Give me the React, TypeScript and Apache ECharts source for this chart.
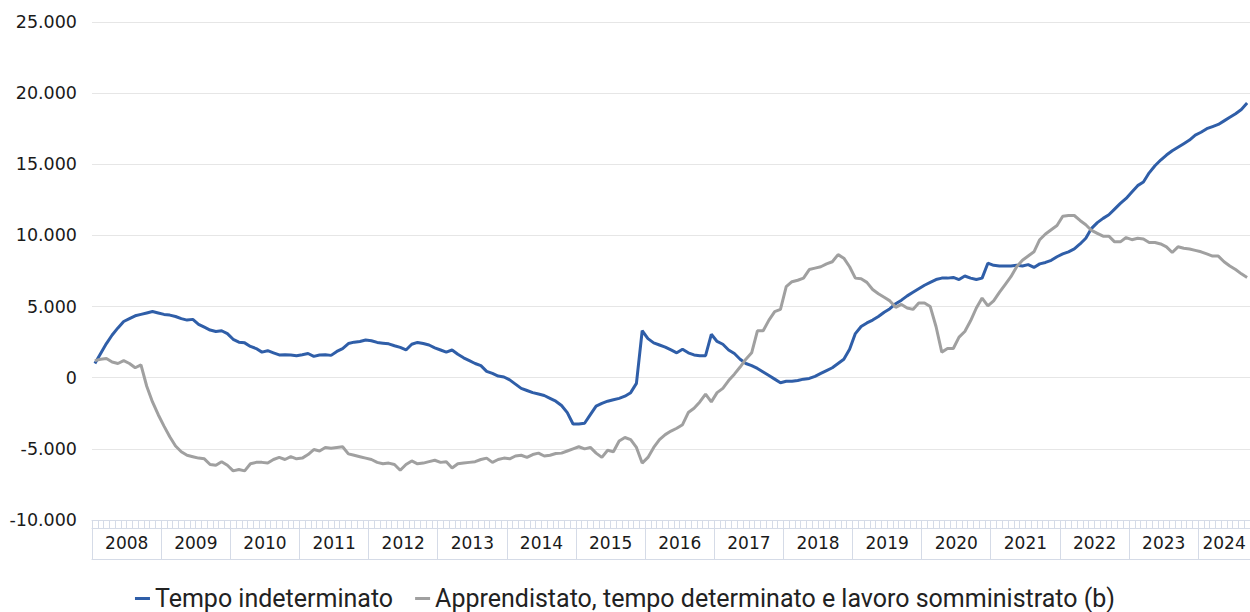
import React, { useEffect, useRef } from "react";
import * as echarts from "echarts";

const START_YEAR = 2008;
const MONTH_COUNT = 201;
const months: string[] = Array.from(
  { length: MONTH_COUNT },
  (_, i) => `${START_YEAR + Math.floor(i / 12)}-${String((i % 12) + 1).padStart(2, "0")}`
);

const seriesNames = [
  "Tempo indeterminato",
  "Apprendistato, tempo determinato e lavoro somministrato (b)",
];

const tempoIndeterminato: number[] = [
  1000, 1700, 2400, 3000, 3500, 3950, 4150, 4350, 4450, 4550, 4650,
  4550, 4450, 4400, 4300, 4150, 4050, 4100, 3750, 3550, 3350,
  3250, 3300, 3100, 2700, 2500, 2450, 2200, 2050, 1800, 1900,
  1750, 1600, 1620, 1600, 1550, 1620, 1700, 1500, 1600, 1620,
  1570, 1850, 2050, 2400, 2500, 2550, 2650, 2600, 2480, 2430,
  2380, 2250, 2130, 1950, 2350, 2480, 2400, 2300, 2100, 1950,
  1800, 1950, 1650, 1400, 1200, 1000, 850, 450, 300, 120,
  50, -150, -450, -750, -900, -1050, -1150, -1250, -1450, -1650,
  -1950, -2450, -3250, -3250, -3200, -2600, -2000, -1800, -1650, -1550,
  -1450, -1300, -1050, -400, 3300, 2750, 2450, 2300, 2150, 1950,
  1750, 2000, 1750, 1600, 1550, 1550, 3050, 2550, 2350, 1950,
  1700, 1300, 1000, 850, 650, 400, 150, -100, -350, -250,
  -250, -200, -100, -50, 100, 300, 500, 700, 1000, 1300,
  2000, 3100, 3600, 3850, 4050, 4300, 4600, 4850, 5200, 5450,
  5750, 6000, 6250, 6500, 6700, 6900, 7000, 7000, 7050, 6900,
  7150, 7000, 6900, 7000, 8050, 7900, 7850, 7850, 7850, 7900,
  7850, 7950, 7750, 8000, 8100, 8250, 8500, 8700, 8850, 9050,
  9400, 9800, 10500, 10900, 11200, 11450, 11850, 12250, 12600, 13050,
  13500, 13750, 14400, 14900, 15300, 15650, 15950, 16200, 16450, 16700,
  17050, 17250, 17500, 17650, 17800, 18050, 18300, 18550, 18850, 19300,
];

const apprendistato: number[] = [
  1200, 1300, 1350, 1100, 1000, 1200, 1000, 700, 900, -600, -1700,
  -2600, -3400, -4150, -4800, -5200, -5450, -5550, -5650, -5700, -6100,
  -6150, -5900, -6150, -6550, -6450, -6550, -6050, -5950, -5950, -6000,
  -5750, -5600, -5750, -5550, -5700, -5650, -5400, -5050, -5150, -4900,
  -4950, -4900, -4850, -5350, -5450, -5550, -5650, -5750, -5950, -6050,
  -6000, -6100, -6500, -6100, -5850, -6050, -6000, -5900, -5800, -5950,
  -5900, -6350, -6050, -6000, -5950, -5900, -5750, -5650, -5950, -5750,
  -5650, -5700, -5500, -5450, -5600, -5400, -5300, -5500, -5450, -5330,
  -5300, -5150, -5000, -4850, -5000, -4900, -5300, -5600, -5100, -5200,
  -4450, -4200, -4350, -4900, -6000, -5600, -4900, -4350, -4000, -3750,
  -3550, -3300, -2450, -2150, -1700, -1150, -1700, -1050, -750, -200,
  250, 750, 1300, 1750, 3300, 3300, 4050, 4650, 4800, 6400,
  6750, 6850, 7000, 7600, 7700, 7800, 8000, 8150, 8650, 8400,
  7800, 7000, 6950, 6700, 6200, 5900, 5650, 5400, 4950, 5150,
  4900, 4800, 5250, 5250, 5000, 3600, 1800, 2050, 2050, 2850,
  3250, 4000, 4900, 5600, 5050, 5400, 6000, 6550, 7100, 7800,
  8250, 8550, 8850, 9700, 10100, 10400, 10700, 11350, 11400, 11400,
  11050, 10750, 10350, 10150, 9950, 9950, 9550, 9550, 9850, 9700,
  9800, 9750, 9500, 9500, 9400, 9200, 8800, 9200, 9100, 9050,
  8950, 8850, 8700, 8550, 8550, 8150, 7850, 7600, 7300, 7050,
];

const Y_MIN = -10000;
const Y_MAX = 25000;
const Y_STEP = 5000;

const formatIt = (v: number) => {
  const s = Math.abs(v).toString().replace(/\B(?=(\d{3})+(?!\d))/g, ".");
  return (v < 0 ? "-" : "") + s;
};

export default function App() {
  const ref = useRef<HTMLDivElement>(null);
  useEffect(() => {
    const chart = echarts.init(ref.current!, null, { renderer: "svg" });
    const axisColor = "#d5dbe7";
    const yearLen = (i: number) => {
      const ys = Math.floor(i / 12) * 12;
      return Math.min(12, MONTH_COUNT - ys);
    };
    const isLabelIdx = (i: number) => {
      const ys = Math.floor(i / 12) * 12;
      return i === ys + Math.floor((yearLen(i) - 1) / 2);
    };
    chart.setOption({
      animation: false,
      grid: { left: 92, right: 0, top: 22, bottom: 92, containLabel: false },
      legend: {
        bottom: -4,
        left: "center",
        icon: "rect",
        itemWidth: 15,
        itemHeight: 3,
        itemGap: 22,
        textStyle: { fontFamily: "Roboto", fontSize: 25, color: "#222" },
        data: seriesNames,
      },
      xAxis: [
        {
          type: "category",
          data: months,
          position: "bottom",
          boundaryGap: true,
          axisLine: { show: true, onZero: false, lineStyle: { color: axisColor, width: 1 } },
          axisTick: { show: true, interval: 0, length: 8, lineStyle: { color: axisColor } },
          axisLabel: { show: false },
          splitLine: { show: false },
        },
        {
          type: "category",
          data: months,
          position: "bottom",
          offset: 8,
          boundaryGap: true,
          axisLine: { show: true, onZero: false, lineStyle: { color: axisColor, width: 1 } },
          axisTick: {
            show: true,
            interval: (i: number) => i % 12 === 0,
            length: 31,
            lineStyle: { color: axisColor },
          },
          axisLabel: {
            show: true,
            interval: (i: number) => isLabelIdx(i),
            margin: 6,
            formatter: (v: string, i: number) => {
              const y = v.slice(0, 4);
              return yearLen(i) % 2 === 0 ? `{e|${y}}` : `{o|${y}}`;
            },
            rich: {
              e: { fontFamily: "DejaVu Sans", fontSize: 17, color: "#1a1a1a", padding: [0, 0, 0, 6] },
              o: { fontFamily: "DejaVu Sans", fontSize: 17, color: "#1a1a1a" },
            },
          },
          splitLine: { show: false },
        },
        {
          type: "category",
          data: months,
          position: "bottom",
          offset: 39,
          boundaryGap: true,
          axisLine: { show: true, onZero: false, lineStyle: { color: axisColor, width: 1 } },
          axisTick: { show: false },
          axisLabel: { show: false },
          splitLine: { show: false },
        },
      ],
      yAxis: {
        type: "value",
        min: Y_MIN,
        max: Y_MAX,
        interval: Y_STEP,
        axisLine: { show: false },
        axisTick: { show: false },
        axisLabel: {
          fontFamily: "DejaVu Sans",
          fontSize: 17.5,
          color: "#1a1a1a",
          margin: 15,
          formatter: (v: number) => formatIt(v),
        },
        splitLine: { show: true, lineStyle: { color: "#e6e6e6", width: 1 } },
      },
      series: [
        {
          name: seriesNames[0],
          type: "line",
          xAxisIndex: 0,
          data: tempoIndeterminato,
          showSymbol: false,
          symbol: "none",
          lineStyle: { color: "#2f5ea8", width: 3 },
          itemStyle: { color: "#2f5ea8" },
        },
        {
          name: seriesNames[1],
          type: "line",
          xAxisIndex: 0,
          data: apprendistato,
          showSymbol: false,
          symbol: "none",
          lineStyle: { color: "#a0a0a0", width: 3 },
          itemStyle: { color: "#a0a0a0" },
        },
      ],
    });
    return () => chart.dispose();
  }, []);
  return (
    <div
      ref={ref}
      style={{ position: "fixed", left: 0, top: 0, width: 1250, height: 612, background: "#fff" }}
    />
  );
}
